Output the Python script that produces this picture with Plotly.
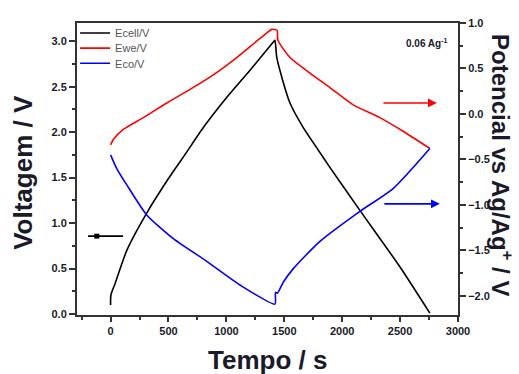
import plotly.graph_objects as go

# Galvanostatic charge/discharge at 0.06 A/g: cell voltage and electrode potentials
t_cell = [0, 3, 40, 140, 312, 500, 657, 772, 1002, 1204, 1405, 1419, 1434, 1462, 1549, 1664, 1795, 1895, 2153, 2498, 2757]
e_cell = [0.10, 0.21, 0.34, 0.70, 1.11, 1.49, 1.78, 2.00, 2.38, 2.68, 2.99, 3.01, 2.83, 2.68, 2.32, 2.05, 1.80, 1.61, 1.14, 0.52, 0.01]

t_we = [0, 24, 110, 283, 485, 686, 887, 1089, 1261, 1348, 1391, 1437, 1445, 1549, 1721, 1894, 2095, 2325, 2526, 2757]
e_we = [-0.34, -0.28, -0.17, -0.04, 0.12, 0.27, 0.43, 0.62, 0.80, 0.89, 0.93, 0.92, 0.81, 0.62, 0.45, 0.29, 0.10, -0.04, -0.19, -0.38]

t_co = [0, 53, 140, 312, 542, 830, 1117, 1419, 1424, 1440, 1491, 1578, 1808, 2153, 2440, 2757]
e_co = [-0.45, -0.60, -0.78, -1.11, -1.37, -1.62, -1.88, -2.09, -1.96, -1.97, -1.85, -1.70, -1.40, -1.07, -0.82, -0.38]

series_names = ["Ecell/V", "Ewe/V", "Eco/V"]
series_colors = ["#000000", "#ff0000", "#0000ff"]

FONT = "Liberation Sans, Arial, sans-serif"
INK = "#1a1a2a"
AXIS = "#333333"

fig = go.Figure()
line_style = dict(width=1.6, shape="spline", smoothing=0.6)
fig.add_trace(go.Scatter(x=t_cell, y=e_cell, mode="lines", name=series_names[0],
                         line=dict(color=series_colors[0], **line_style), yaxis="y", legend="legend"))
fig.add_trace(go.Scatter(x=t_we, y=e_we, mode="lines", name=series_names[1],
                         line=dict(color=series_colors[1], **line_style), yaxis="y2", legend="legend2"))
fig.add_trace(go.Scatter(x=t_co, y=e_co, mode="lines", name=series_names[2],
                         line=dict(color=series_colors[2], **line_style), yaxis="y2", legend="legend3"))

tick_font = dict(family=FONT, size=11, color=INK, weight="bold")
legend_common = dict(font=dict(family=FONT, size=11, color="#555555"), bgcolor="rgba(0,0,0,0)",
                     xanchor="left", yanchor="middle", itemwidth=30, borderwidth=0)

fig.update_layout(
    width=519, height=374,
    margin=dict(l=77, r=61, t=23, b=59),
    paper_bgcolor="white", plot_bgcolor="white",
    showlegend=True,
    legend=dict(x=-0.005, y=0.966, **legend_common),
    legend2=dict(x=-0.005, y=0.914, **legend_common),
    legend3=dict(x=-0.005, y=0.862, **legend_common),
    xaxis=dict(range=[-290, 3000], dtick=500, tick0=0, ticks="outside", ticklen=5, tickwidth=1.5,
               tickcolor=AXIS, showline=True, linewidth=2, linecolor=AXIS, mirror=True,
               showgrid=False, zeroline=False, tickfont=tick_font,
               minor=dict(dtick=250, tick0=0, ticks="outside", ticklen=3, tickcolor=AXIS, showgrid=False)),
    yaxis=dict(range=[-0.01, 3.20], dtick=0.5, tick0=0, tickformat=".1f", ticks="outside", ticklen=6,
               tickwidth=1.5, tickcolor=AXIS, showline=True, linewidth=2, linecolor=AXIS,
               showgrid=False, zeroline=False, tickfont=tick_font,
               minor=dict(dtick=0.25, tick0=0, ticks="outside", ticklen=3, tickcolor=AXIS, showgrid=False)),
    yaxis2=dict(range=[-2.21, 1.0], dtick=0.5, tick0=0, tickformat=".1f", ticks="outside", ticklen=6,
                tickwidth=1.5, tickcolor=AXIS, showline=True, linewidth=2, linecolor=AXIS,
                overlaying="y", side="right", showgrid=False, zeroline=False, tickfont=tick_font,
                minor=dict(dtick=0.25, tick0=0, ticks="outside", ticklen=3, tickcolor=AXIS, showgrid=False)),
)

title_font = dict(family=FONT, size=26, color=INK, weight="bold")
fig.add_annotation(text="Voltagem / V", xref="paper", yref="paper", x=-0.142, y=0.49,
                   textangle=-90, showarrow=False, font=title_font, xanchor="center", yanchor="middle")
fig.add_annotation(text="Potencial vs Ag/Ag<sup>+</sup> / V", xref="paper", yref="paper", x=1.115, y=0.514,
                   textangle=90, showarrow=False, font=dict(family=FONT, size=24, color=INK, weight="bold"),
                   xanchor="center", yanchor="middle")
fig.add_annotation(text="Tempo / s", xref="paper", yref="paper", x=0.5, y=-0.154,
                   showarrow=False, font=title_font, xanchor="center", yanchor="middle")
fig.add_annotation(text="0.06 Ag<sup>-1</sup>", xref="paper", yref="paper", x=0.979, y=0.932,
                   showarrow=False, xanchor="right", yanchor="middle",
                   font=dict(family=FONT, size=10, color=INK, weight="bold"))

# Arrows pointing each curve to its axis
fig.add_annotation(x=2817, y=0.121, ax=2343, ay=0.121, xref="x", yref="y2", axref="x", ayref="y2",
                   text="", showarrow=True, arrowhead=2, arrowsize=1.1, arrowwidth=1.6, arrowcolor="#ff0000")
fig.add_annotation(x=2843, y=-0.988, ax=2351, ay=-0.988, xref="x", yref="y2", axref="x", ayref="y2",
                   text="", showarrow=True, arrowhead=2, arrowsize=1.1, arrowwidth=1.6, arrowcolor="#0000ff")
fig.add_shape(type="line", x0=-194, x1=108, y0=0.857, y1=0.857, xref="x", yref="y",
              line=dict(color="#000000", width=1.6))
fig.add_shape(type="rect", x0=-141, x1=-97, y0=0.830, y1=0.884, xref="x", yref="y",
              line=dict(color="#000000", width=0), fillcolor="#000000")

fig.write_html("out.html")
